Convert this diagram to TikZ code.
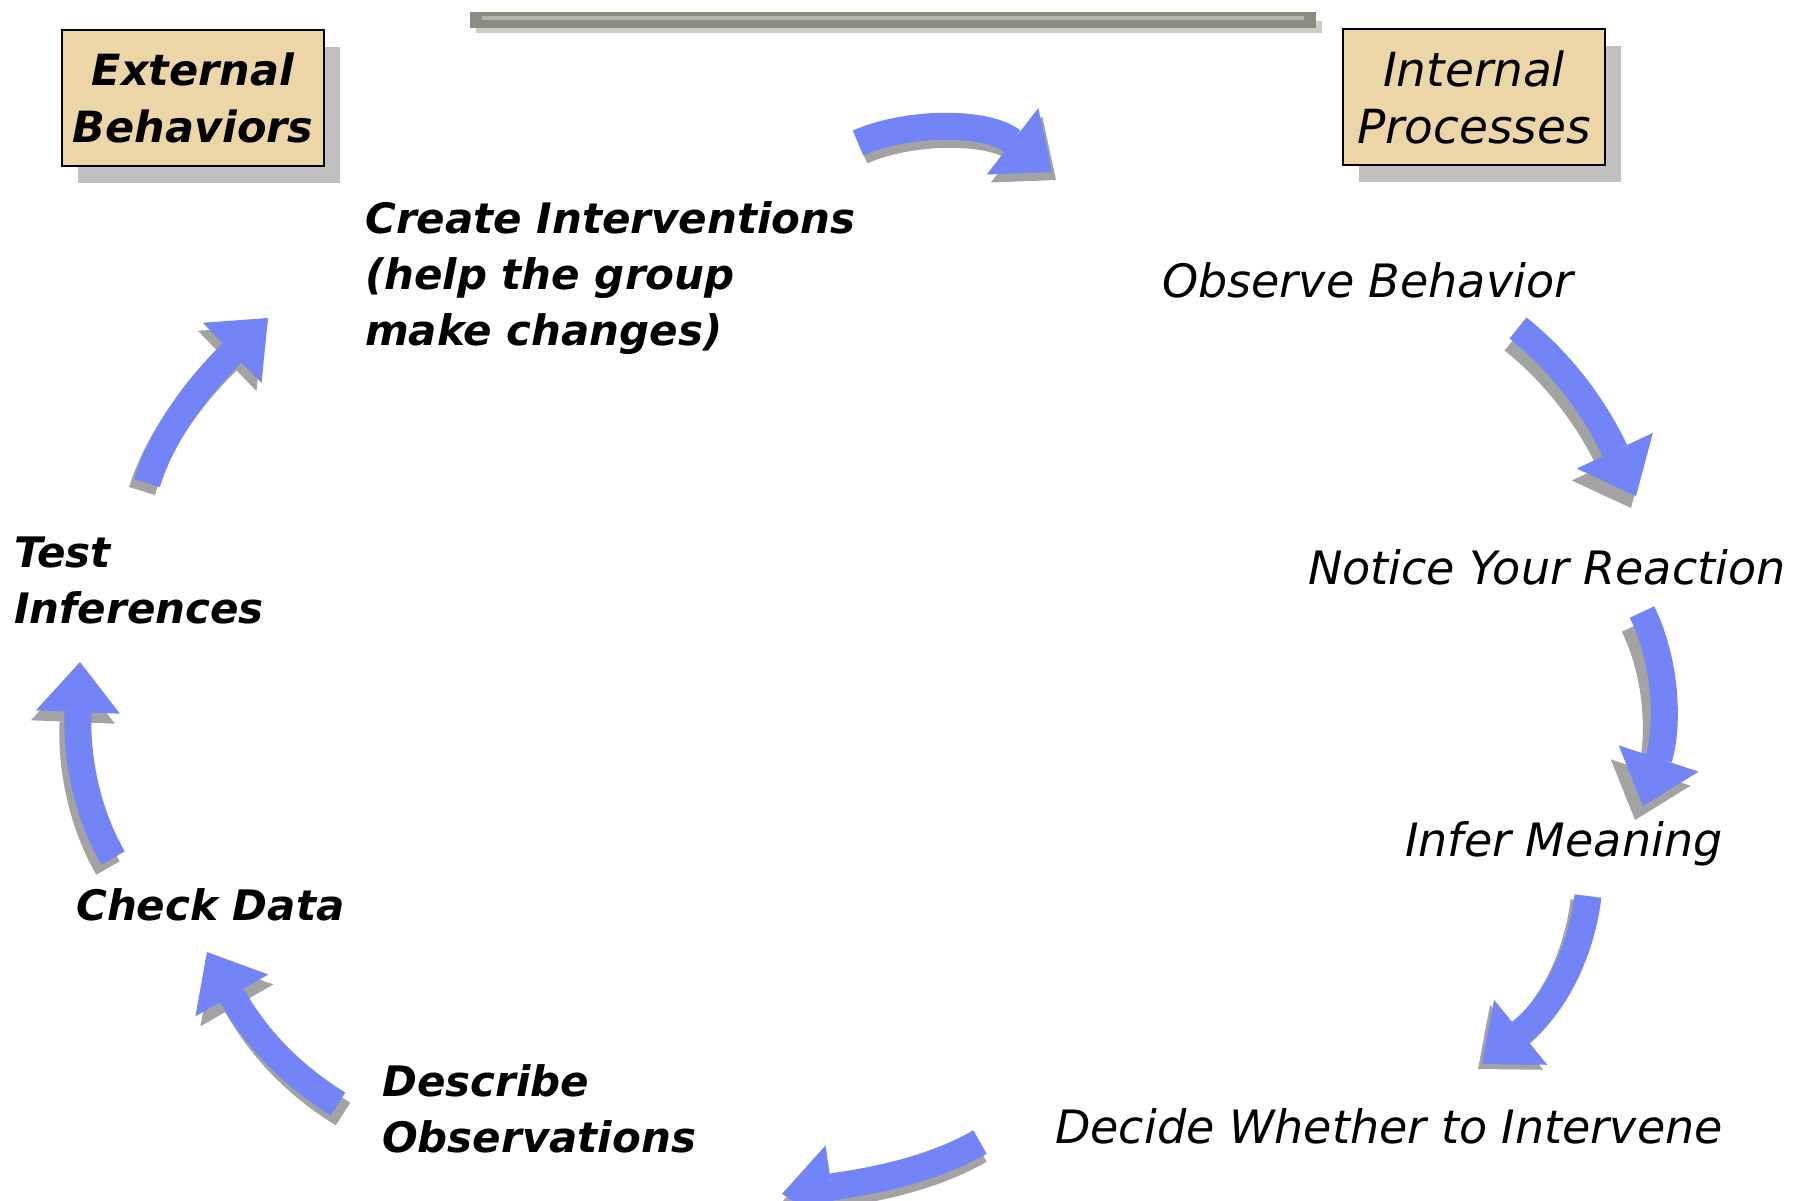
\documentclass[tikz,border=0pt]{standalone}
\usepackage{fontspec}
\setmainfont{DejaVu Sans}[
  BoldFont={DejaVu Sans Bold},
  ItalicFont={DejaVu Sans Oblique},
  BoldItalicFont={DejaVu Sans Bold Oblique}]
\usetikzlibrary{arrows.meta,shadows}

\definecolor{flowblue}{RGB}{114,132,246}
\definecolor{flowshade}{RGB}{163,163,163}
\definecolor{parchment}{RGB}{236,214,168}
\definecolor{boxshade}{RGB}{192,192,192}
\definecolor{rulegray}{RGB}{140,140,128}
\definecolor{rulelight}{RGB}{182,182,172}

\tikzset{
  flowtip/.style={-{Triangle[length=50pt,width=84pt,line width=0pt]}},
  flow/.style={flowtip, line width=27pt, draw=flowblue},
  flowshadow/.style={flowtip, line width=27pt, draw=flowshade},
  headerbox/.style={draw=black, line width=2pt, fill=parchment,
    minimum width=262pt, minimum height=136pt, inner sep=0pt, align=center,
    drop shadow={shadow xshift=16pt, shadow yshift=-17pt, opacity=1, fill=boxshade}},
  boldlabel/.style={anchor=base west, inner sep=0pt,
    font=\fontsize{42}{56}\selectfont\bfseries\itshape},
  plainlabel/.style={anchor=base west, inner sep=0pt,
    font=\fontsize{46}{56}\selectfont\itshape},
}

% one curved block arrow with its grey drop shadow
\newcommand\flowarrow[6]{%
  \draw[flowshadow, transform canvas={xshift=#5, yshift=#6}]
    (#1) .. controls #3 and #4 .. (#2);
  \draw[flow] (#1) .. controls #3 and #4 .. (#2);
}

\begin{document}
\begin{tikzpicture}[x=1pt, y=-1pt]
\path[use as bounding box, clip] (0,0) rectangle (1803,1200);
\fill[white] (0,0) rectangle (1803,1200);

% horizontal rule at the top
\fill[rulelight!70] (476,21) rectangle (1322,33);
\fill[rulegray] (470,12) rectangle (1316,28);
\fill[rulelight] (482,16) rectangle (1304,20);

% header boxes
\node[headerbox, font=\fontsize{43}{57}\selectfont\bfseries\itshape]
  (ext) at (193,98) {External\\Behaviors};
\node[headerbox, font=\fontsize{47}{57}\selectfont\itshape]
  (int) at (1474,97) {Internal\\Processes};

% steps of the cycle
\node[boldlabel] (create) at (365,233)
  {\vtop{\hbox{Create Interventions}\hbox{(help the group}\hbox{make changes)}}};
\node[plainlabel] (observe) at (1162,297) {Observe Behavior};
\node[plainlabel] (notice) at (1308,584) {Notice Your Reaction};
\node[plainlabel] (infer) at (1405,856) {Infer Meaning};
\node[plainlabel] (decide) at (1055,1143) {Decide Whether to Intervene};
\node[boldlabel] (describe) at (382,1096)
  {\vtop{\hbox{Describe}\hbox{Observations}}};
\node[boldlabel] (check) at (76,920) {Check Data};
\node[boldlabel] (test) at (14,567)
  {\vtop{\hbox{Test}\hbox{Inferences}}};

% arrow end points
\coordinate (a1s) at (858,143);  \coordinate (a1e) at (1052,172);
\coordinate (a2s) at (1518,328); \coordinate (a2e) at (1636,496);
\coordinate (a3s) at (1642,612); \coordinate (a3e) at (1643,806);
\coordinate (a4s) at (1588,896); \coordinate (a4e) at (1482,1064);
\coordinate (a5s) at (980,1142); \coordinate (a5e) at (782,1194);
\coordinate (a6s) at (338,1104); \coordinate (a6e) at (207,952);
\coordinate (a7s) at (113,858);  \coordinate (a7e) at (80,662);
\coordinate (a8s) at (147,483);  \coordinate (a8e) at (268,318);

% arrows around the cycle
\flowarrow{a1s}{a1e}{(905,122)}{(985,120)}{4pt}{-8pt}
\flowarrow{a2s}{a2e}{(1556,358)}{(1592,402)}{-5pt}{-12pt}
\flowarrow{a3s}{a3e}{(1668,665)}{(1668,730)}{-8pt}{-14pt}
\flowarrow{a4s}{a4e}{(1582,945)}{(1560,1000)}{-4pt}{-5pt}
\flowarrow{a5s}{a5e}{(935,1168)}{(880,1180)}{0pt}{-8pt}
\flowarrow{a6s}{a6e}{(300,1080)}{(262,1048)}{5pt}{-10pt}
\flowarrow{a7s}{a7e}{(88,815)}{(76,760)}{-5pt}{-10pt}
\flowarrow{a8s}{a8e}{(160,440)}{(192,392)}{-5pt}{-8pt}
\end{tikzpicture}
\end{document}
